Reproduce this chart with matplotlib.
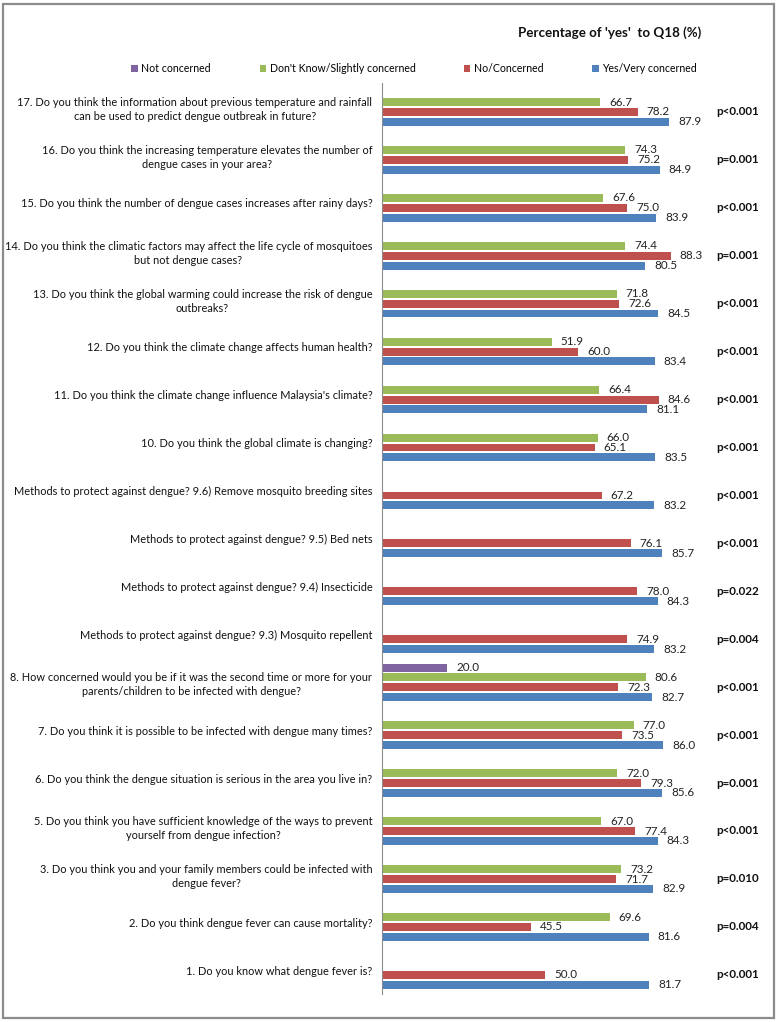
import numpy as np
import matplotlib
matplotlib.use("Agg")
import matplotlib.pyplot as plt
from matplotlib.patches import Patch, Rectangle

plt.rcParams['font.family'] = ['Lato', 'DejaVu Sans']

# questions, listed from top to bottom as in the chart
questions = [
    "17. Do you think the information about previous temperature and rainfall\ncan be used to predict dengue outbreak in future?",
    "16. Do you think the increasing temperature elevates the number of\ndengue cases in your area?",
    "15. Do you think the number of dengue cases increases after rainy days?",
    "14. Do you think the climatic factors may affect the life cycle of mosquitoes\nbut not dengue cases?",
    "13. Do you think the global warming could increase the risk of dengue\noutbreaks?",
    "12. Do you think the climate change affects human health?",
    "11. Do you think the climate change influence Malaysia's climate?",
    "10. Do you think the global climate is changing?",
    "Methods to protect against dengue? 9.6) Remove mosquito breeding sites",
    "Methods to protect against dengue? 9.5) Bed nets",
    "Methods to protect against dengue? 9.4) Insecticide",
    "Methods to protect against dengue? 9.3) Mosquito repellent",
    "8. How concerned would you be if it was the second time or more for your\nparents/children to be infected with dengue?",
    "7. Do you think it is possible to be infected with dengue many times?",
    "6. Do you think the dengue situation is serious in the area you live in?",
    "5. Do you think you have sufficient knowledge of the ways to prevent\nyourself from dengue infection?",
    "3. Do you think you and your family members could be infected with\ndengue fever?",
    "2. Do you think dengue fever can cause mortality?",
    "1. Do you know what dengue fever is?",
]

nan = np.nan
not_concerned = [nan, nan, nan, nan, nan, nan, nan, nan, nan, nan, nan, nan,
                 20.0, nan, nan, nan, nan, nan, nan]
dont_know = [66.7, 74.3, 67.6, 74.4, 71.8, 51.9, 66.4, 66.0, nan, nan, nan, nan,
             80.6, 77.0, 72.0, 67.0, 73.2, 69.6, nan]
no_concerned = [78.2, 75.2, 75.0, 88.3, 72.6, 60.0, 84.6, 65.1, 67.2, 76.1, 78.0, 74.9,
                72.3, 73.5, 79.3, 77.4, 71.7, 45.5, 50.0]
yes_concerned = [87.9, 84.9, 83.9, 80.5, 84.5, 83.4, 81.1, 83.5, 83.2, 85.7, 84.3, 83.2,
                 82.7, 86.0, 85.6, 84.3, 82.9, 81.6, 81.7]
p_values = ["p<0.001", "p=0.001", "p<0.001", "p=0.001", "p<0.001", "p<0.001", "p<0.001",
            "p<0.001", "p<0.001", "p<0.001", "p=0.022", "p=0.004", "p<0.001", "p<0.001",
            "p=0.001", "p<0.001", "p=0.010", "p=0.004", "p<0.001"]

series_names = ["Not concerned", "Don't Know/Slightly concerned", "No/Concerned", "Yes/Very concerned"]
series_colors = ["#8064A2", "#9BBB59", "#C0504D", "#4F81BD"]
series_values = [not_concerned, dont_know, no_concerned, yes_concerned]

fig = plt.figure(figsize=(7.77, 10.22), dpi=100)
ax = fig.add_axes([0.4916, 0.0274, 0.4208, 0.8914])

n = len(questions)
y = np.arange(n)[::-1]  # first question at the top
slot = 0.205
offsets = [1.5 * slot, 0.5 * slot, -0.5 * slot, -1.5 * slot]

for vals, color, off in zip(series_values, series_colors, offsets):
    vals = np.array(vals, dtype=float)
    mask = ~np.isnan(vals)
    ax.barh(y[mask] + off, vals[mask], height=0.165, color=color, edgecolor='none')
    for yy, v in zip(y[mask] + off, vals[mask]):
        ax.annotate(f"{v:.1f}", xy=(v, yy), xytext=(6.5, 0), textcoords='offset points',
                    va='center', ha='left', fontsize=8.4, color='#222222')

# p-values on the right
for yy, p in zip(y, p_values):
    ax.text(108.9, yy - 0.1, p, ha='center', va='center', fontsize=8.4,
            fontweight='bold', color='#111111', clip_on=False)

ax.set_xlim(0, 100)
ax.set_ylim(-0.5, n - 0.5)
ax.set_yticks(y)
ax.set_yticklabels(questions, fontsize=7.9, color='#111111', linespacing=1.35)
for lbl in ax.get_yticklabels():
    lbl.set_multialignment('center')
ax.tick_params(axis='y', length=0, pad=7)
ax.set_xticks([])
for side in ['top', 'right', 'bottom']:
    ax.spines[side].set_visible(False)
ax.spines['left'].set_color('#8c8c8c')
ax.spines['left'].set_linewidth(0.8)

fig.text(0.785, 0.9677, "Percentage of 'yes'  to Q18 (%)", ha='center', va='center',
         fontsize=9.6, fontweight='bold', color='#111111')

handles = [Patch(facecolor=c, edgecolor='none') for c in series_colors]
fig.legend(handles, series_names, loc='center', bbox_to_anchor=(0.533, 0.9325), ncol=4,
           frameon=False, fontsize=7.6, handlelength=0.6, handleheight=0.6,
           handletextpad=0.35, columnspacing=4.6)

# grey frame around the chart
fig.patches.append(Rectangle((0.004, 0.004), 0.992, 0.992, transform=fig.transFigure,
                             fill=False, edgecolor='#8c8c8c', linewidth=1.6))

fig.savefig("out.png", dpi=100)
